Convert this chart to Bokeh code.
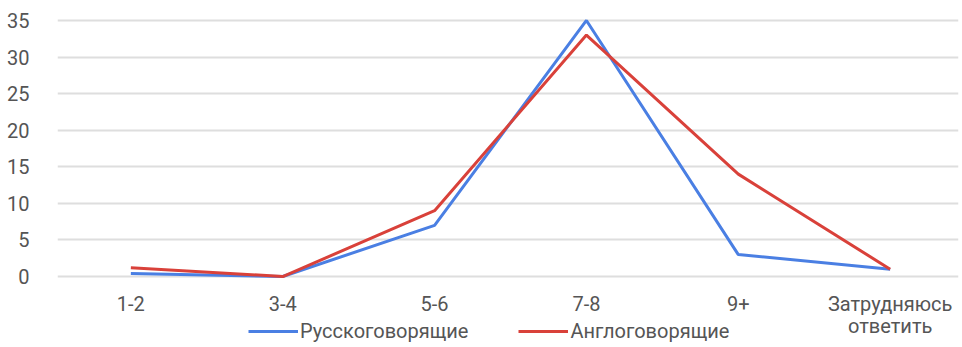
from bokeh.plotting import figure
from bokeh.models import Range1d, FixedTicker, Legend, LegendItem
from bokeh.layouts import column
from bokeh.embed import file_html
from bokeh.resources import INLINE

categories = ["1-2", "3-4", "5-6", "7-8", "9+", "Затрудняюсь\nответить"]
series_names = ["Русскоговорящие", "Англоговорящие"]
russian = [0.4, 0.0, 7.0, 35.0, 3.0, 1.0]
english = [1.2, 0.0, 9.0, 33.0, 14.0, 1.0]
y_ticks = [0, 5, 10, 15, 20, 25, 30, 35]
colors = ["#4a7fe3", "#d9413a"]

xs = list(range(len(categories)))
FONT = "Roboto"
FS = "20px"

p = figure(width=962, height=341, output_backend="svg", toolbar_location=None,
           x_range=Range1d(-0.483, 5.45), y_range=Range1d(-1.09, 36.09),
           min_border_left=57, min_border_right=4, min_border_top=12, min_border_bottom=50)
p.outline_line_color = None
p.background_fill_color = "white"
p.border_fill_color = "white"

p.line(xs, russian, line_color=colors[0], line_width=3)
p.line(xs, english, line_color=colors[1], line_width=3)

p.xgrid.grid_line_color = None
p.ygrid.grid_line_color = "#dedede"
p.ygrid.grid_line_width = 2
p.yaxis.ticker = FixedTicker(ticks=y_ticks)
p.xaxis.ticker = FixedTicker(ticks=xs)
p.xaxis.major_label_overrides = {i: c for i, c in enumerate(categories)}

for ax in (p.xaxis[0], p.yaxis[0]):
    ax.axis_line_color = None
    ax.major_tick_line_color = None
    ax.minor_tick_line_color = None
    ax.major_label_text_font = FONT
    ax.major_label_text_font_size = FS
    ax.major_label_text_color = "#555555"
p.yaxis.major_label_standoff = 22
p.xaxis.major_label_standoff = 1
p.xaxis.major_label_text_line_height = 0.95

# legend strip (same series drawn off-view so only the legend shows)
lg = figure(width=962, height=28, output_backend="svg", toolbar_location=None,
            x_range=Range1d(-0.483, 5.45), y_range=Range1d(100, 101),
            min_border_left=0, min_border_right=0, min_border_top=0, min_border_bottom=0,
            margin=(-22, 0, 0, 0))
lg.outline_line_color = None
lg.border_fill_alpha = 0
lg.background_fill_alpha = 0
lg.axis.visible = False
lg.grid.grid_line_color = None
l1 = lg.line(xs, russian, line_color=colors[0], line_width=3)
l2 = lg.line(xs, english, line_color=colors[1], line_width=3)

legend = Legend(items=[LegendItem(label=series_names[0], renderers=[l1]),
                       LegendItem(label=series_names[1], renderers=[l2])],
                orientation="horizontal", location=(191, 4))
legend.border_line_color = None
legend.background_fill_alpha = 0
legend.label_text_font = FONT
legend.label_text_font_size = FS
legend.label_text_color = "#555555"
legend.glyph_width = 50
legend.glyph_height = 20
legend.label_height = 20
legend.spacing = 50
legend.padding = 0
legend.margin = 0
legend.label_standoff = 2
lg.add_layout(legend, "center")

layout = column(p, lg, spacing=0)
open("out.html", "w").write(file_html(layout, INLINE))
